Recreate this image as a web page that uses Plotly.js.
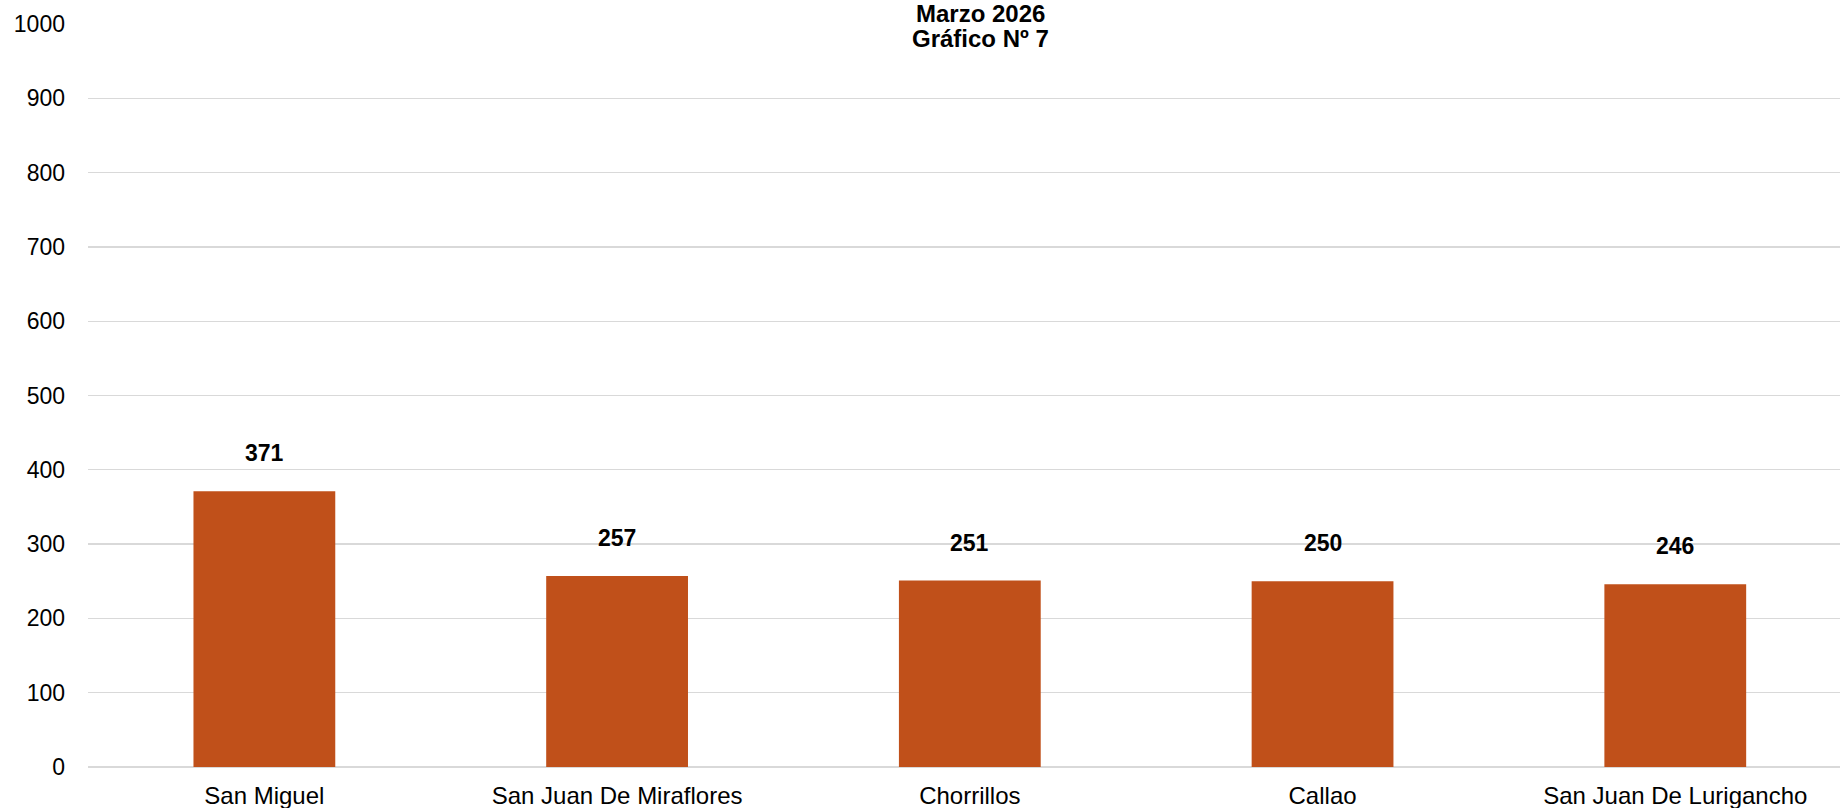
<!DOCTYPE html>
<html>
<head>
<meta charset="utf-8">
<script src="https://cdn.plot.ly/plotly-3.0.1.min.js"></script>
<style>html,body{margin:0;padding:0;background:#fff;}#chart{width:1840px;height:808px;}</style>
</head>
<body>
<div id="chart"></div>
<script>
const categories = ["San Miguel", "San Juan De Miraflores", "Chorrillos", "Callao", "San Juan De Lurigancho"];
const values = [371, 257, 251, 250, 246];
const yTicks = [0, 100, 200, 300, 400, 500, 600, 700, 800, 900, 1000];
const titleLines = ["Marzo 2026", "Gráfico Nº 7"];

const FONT = "Liberation Sans, Arial, sans-serif";

const trace = {
  type: "bar",
  x: categories,
  y: values,
  width: 0.402,
  marker: { color: "#C0501A" },
  hoverinfo: "x+y"
};

const annotations = categories.map((c, i) => ({
  x: c, y: values[i], xref: "x", yref: "y",
  text: "<b>" + values[i] + "</b>",
  showarrow: false, yanchor: "bottom", yshift: 23,
  font: { family: FONT, size: 23, color: "#000" }
}));

const titleShifts = [11, -14];
titleLines.forEach((t, i) => annotations.push({
  x: (980 - 88) / 1752, xref: "paper", xanchor: "center",
  y: 1, yref: "paper", yanchor: "middle", yshift: titleShifts[i],
  text: "<b>" + t + "</b>",
  showarrow: false, align: "center",
  font: { family: FONT, size: 24, color: "#000" }
}));

const layout = {
  width: 1840, height: 808,
  margin: { l: 88, r: 0, t: 24, b: 41 },
  paper_bgcolor: "#fff", plot_bgcolor: "#fff",
  showlegend: false,
  xaxis: {
    type: "category",
    range: [-0.5, 4.467],
    showgrid: false, zeroline: false, showline: false,
    ticks: "", ticklabelstandoff: 12,
    tickfont: { family: FONT, size: 24, color: "#000" },
    fixedrange: true
  },
  yaxis: {
    range: [0, 1000],
    tickvals: yTicks,
    ticktext: yTicks.map(String),
    showgrid: true, gridcolor: "#D9D9D9", gridwidth: 1.3,
    zeroline: true, zerolinecolor: "#D9D9D9", zerolinewidth: 1.3,
    showline: false, ticks: "", ticklabelstandoff: 22,
    tickfont: { family: FONT, size: 23, color: "#000" },
    fixedrange: true
  },
  annotations: annotations
};

Plotly.newPlot("chart", [trace], layout, { displayModeBar: false, staticPlot: true });
</script>
</body>
</html>
